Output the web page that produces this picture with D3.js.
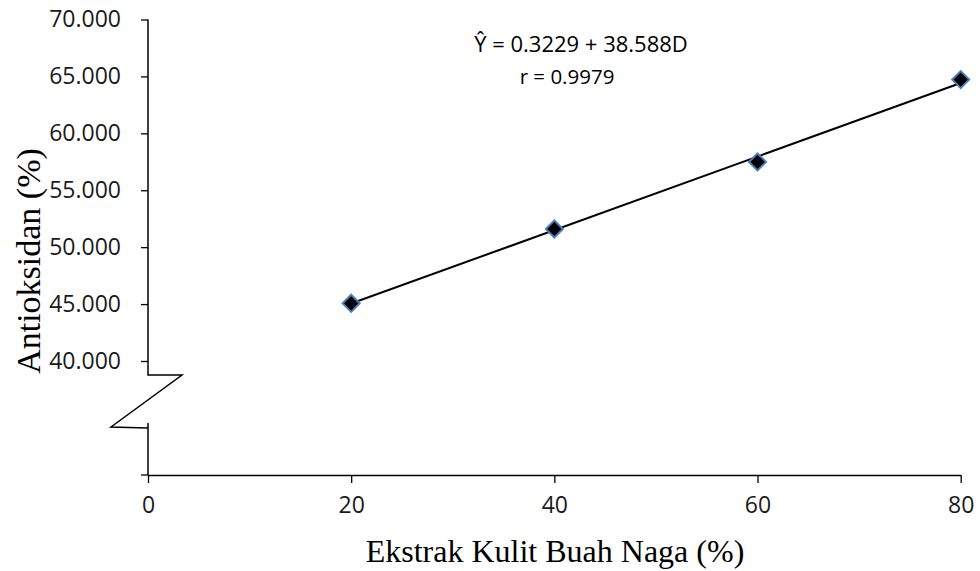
<!DOCTYPE html>
<html>
<head>
<meta charset="utf-8">
<script src="https://cdn.jsdelivr.net/npm/d3@7"></script>
<style>
  html, body { margin: 0; padding: 0; background: #fff; }
  svg { display: block; }
</style>
</head>
<body>
<svg id="chart" width="980" height="571"></svg>
<script>
// Ekstrak kulit buah naga (%) vs aktivitas antioksidan (%)
const concentrations = [20, 40, 60, 80];
const antioxidant = [45.07, 51.60, 57.49, 64.72];
const yTickValues = [40, 45, 50, 55, 60, 65, 70];
const xTickValues = [0, 20, 40, 60, 80];
const regression = { intercept: 38.588, slope: 0.3229 };
const equationText = "Ŷ = 0.3229 + 38.588D";
const rText = "r = 0.9979";
const xTitle = "Ekstrak Kulit Buah Naga (%)";
const yTitle = "Antioksidan (%)";

const svg = d3.select("#chart");
const sansFont = "'Open Sans', 'Liberation Sans', sans-serif";
const serifFont = "'Liberation Serif', 'Times New Roman', serif";

const plotLeft = 148, plotRight = 960.7, plotTop = 19.5, y40 = 361, baseY = 475;

const x = d3.scaleLinear().domain([0, 80]).range([plotLeft, plotRight]);
const y = d3.scaleLinear().domain([40, 70]).range([y40, plotTop]);

// Y axis (upper, scaled part)
const yAxis = d3.axisLeft(y)
  .tickValues(yTickValues)
  .tickSize(7)
  .tickSizeOuter(0)
  .tickPadding(20)
  .tickFormat(d3.format(".3f"));

const gy = svg.append("g").attr("transform", `translate(${plotLeft},0)`).call(yAxis);
gy.select(".domain").remove();
gy.selectAll(".tick line").attr("stroke", "#000").attr("stroke-width", 1.3);
gy.selectAll(".tick text")
  .attr("font-family", sansFont).attr("font-size", 23).attr("fill", "#1a1a1a");

// Y axis line with break
const breakTop = y40 + 14;
const breakBottom = breakTop + 52;
const axisPath = d3.path();
axisPath.moveTo(plotLeft, y(70));
axisPath.lineTo(plotLeft, breakTop);
axisPath.lineTo(plotLeft + 34, breakTop);
axisPath.lineTo(plotLeft - 37, breakBottom);
axisPath.lineTo(plotLeft, breakBottom + 1);
svg.append("path").attr("d", axisPath.toString())
  .attr("fill", "none").attr("stroke", "#000").attr("stroke-width", 1.5)
  .attr("stroke-linejoin", "miter");
svg.append("line")
  .attr("x1", plotLeft).attr("x2", plotLeft)
  .attr("y1", breakBottom - 4).attr("y2", baseY)
  .attr("stroke", "#000").attr("stroke-width", 1.5);

// X axis
const xAxis = d3.axisBottom(x)
  .tickValues(xTickValues)
  .tickSize(8)
  .tickSizeOuter(0)
  .tickPadding(14);
const gx = svg.append("g").attr("transform", `translate(0,${baseY})`).call(xAxis);
gx.select(".domain").attr("stroke", "#000").attr("stroke-width", 1.5);
gx.selectAll(".tick line").attr("stroke", "#000").attr("stroke-width", 1.3);
gx.selectAll(".tick text")
  .attr("font-family", sansFont).attr("font-size", 23).attr("fill", "#1a1a1a");
// horizontal stub left of the origin
svg.append("line")
  .attr("x1", plotLeft - 7).attr("x2", plotLeft)
  .attr("y1", baseY).attr("y2", baseY)
  .attr("stroke", "#000").attr("stroke-width", 1.3);

// Regression line
const xMin = d3.min(concentrations), xMax = d3.max(concentrations);
const fit = v => regression.intercept + regression.slope * v;
svg.append("line")
  .attr("x1", x(xMin)).attr("y1", y(fit(xMin)))
  .attr("x2", x(xMax)).attr("y2", y(fit(xMax)))
  .attr("stroke", "#000").attr("stroke-width", 2);

// Data markers
const diamond = d3.symbol().type(d3.symbolSquare).size(145);
svg.append("g").selectAll("path")
  .data(concentrations.map((c, i) => ({ c, v: antioxidant[i] })))
  .join("path")
  .attr("d", diamond)
  .attr("transform", d => `translate(${x(d.c)},${y(d.v)}) rotate(45)`)
  .attr("fill", "#000")
  .attr("stroke", "#4a7ebb")
  .attr("stroke-width", 2);

// Equation annotation
svg.append("text")
  .attr("x", 581).attr("y", 52)
  .attr("text-anchor", "middle")
  .attr("font-family", sansFont).attr("font-size", 22).attr("fill", "#000")
  .text(equationText);
svg.append("text")
  .attr("x", 567).attr("y", 84)
  .attr("text-anchor", "middle")
  .attr("font-family", sansFont).attr("font-size", 20.5).attr("fill", "#000")
  .text(rText);

// Axis titles
svg.append("text")
  .attr("x", 555).attr("y", 562)
  .attr("text-anchor", "middle")
  .attr("font-family", serifFont).attr("font-size", 32).attr("fill", "#000")
  .text(xTitle);
svg.append("text")
  .attr("transform", `translate(40,261) rotate(-90)`)
  .attr("text-anchor", "middle")
  .attr("font-family", serifFont).attr("font-size", 34).attr("fill", "#000")
  .text(yTitle);
</script>
</body>
</html>
